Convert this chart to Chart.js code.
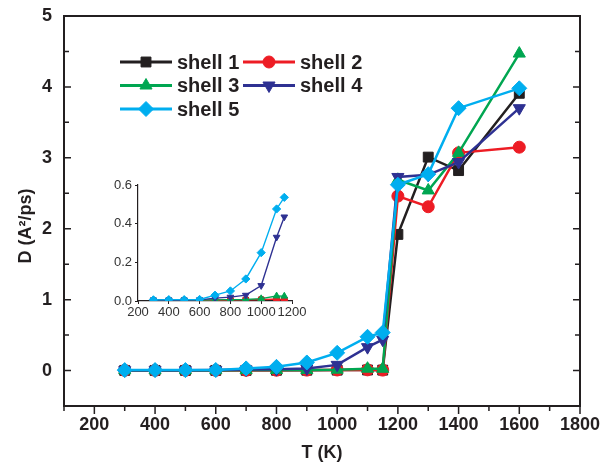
<!DOCTYPE html>
<html>
<head>
<meta charset="utf-8">
<script src="https://cdn.jsdelivr.net/npm/chart.js@4/dist/chart.umd.min.js"></script>
<style>
  body { margin: 0; background: #fff; }
  #wrap { position: relative; width: 605px; height: 466px; }
  #inset { position: absolute; left: 98px; top: 172px; }
</style>
</head>
<body>
<div id="wrap">
  <canvas id="main" width="605" height="466"></canvas>
  <canvas id="inset" width="210" height="150"></canvas>
</div>
<script>
// temperatures (K) and diffusion coefficients D (A^2/ps) per shell
const temps = [300, 400, 500, 600, 700, 800, 900, 1000, 1100, 1150, 1200, 1300, 1400, 1600];
const shell1 = [0.002, 0.002, 0.002, 0.002, 0.003, 0.004, 0.005, 0.006, 0.008, 0.006, 1.92, 3.01, 2.82, 3.91];
const shell2 = [0.003, 0.003, 0.003, 0.003, 0.004, 0.005, 0.006, 0.008, 0.010, 0.006, 2.46, 2.31, 3.07, 3.15];
const shell3 = [0.005, 0.005, 0.005, 0.005, 0.006, 0.007, 0.008, 0.012, 0.026, 0.025, 2.69, 2.54, 3.07, 4.47];
const shell4 = [0.005, 0.005, 0.005, 0.006, 0.015, 0.020, 0.030, 0.080, 0.330, 0.435, 2.73, 2.76, 2.94, 3.70];
const shell5 = [0.006, 0.007, 0.007, 0.008, 0.030, 0.052, 0.114, 0.250, 0.476, 0.536, 2.62, 2.77, 3.70, 3.98];

const seriesNames = ['shell 1', 'shell 2', 'shell 3', 'shell 4', 'shell 5'];
const xTicks = [200, 400, 600, 800, 1000, 1200, 1400, 1600, 1800];
const yTicks = [0, 1, 2, 3, 4, 5];
const insetXTicks = [200, 400, 600, 800, 1000, 1200];
const insetYTicks = [0, 0.2, 0.4, 0.6];
const insetCount = 10; // inset shows points up to 1150 K

const FONT = '"Liberation Sans", Arial, sans-serif';
const INK = '#231f20';
const styles = [
  { color: '#231f20', point: 'rect', rot: 0, r: 7 },
  { color: '#ed1c24', point: 'circle', rot: 0, r: 6 },
  { color: '#00a651', point: 'triangle', rot: 0, r: 7 },
  { color: '#2e3192', point: 'triangle', rot: 180, r: 7 },
  { color: '#00aeef', point: 'rectRot', rot: 0, r: 7.5 },
];
const allSeries = [shell1, shell2, shell3, shell4, shell5];

function makeSets(n, scale) {
  return allSeries.map((s, k) => ({
    label: seriesNames[k],
    data: temps.slice(0, n).map((t, i) => ({ x: t, y: s[i] })),
    borderColor: styles[k].color,
    backgroundColor: styles[k].color,
    pointBackgroundColor: styles[k].color,
    pointBorderColor: styles[k].color,
    pointStyle: styles[k].point,
    rotation: styles[k].rot,
    pointRadius: styles[k].r * scale,
    pointBorderWidth: 1,
    borderWidth: Math.max(1.3, 2.5 * scale),
    order: 5 - k,
  }));
}

// box frame + inward/outward tick marks like the original plot
const framePlugin = {
  id: 'frame',
  afterDraw(chart) {
    const { ctx, chartArea: a, scales } = chart;
    ctx.save();
    ctx.strokeStyle = INK;
    ctx.lineWidth = 2;
    ctx.strokeRect(a.left, a.top, a.right - a.left, a.bottom - a.top);
    ctx.lineWidth = 1.5;
    ctx.beginPath();
    for (let v = 0; v <= 5; v += 0.5) {
      const y = scales.y.getPixelForValue(v);
      const len = Number.isInteger(v) ? 7 : 5;
      ctx.moveTo(a.left, y); ctx.lineTo(a.left + len, y);
      ctx.moveTo(a.right, y); ctx.lineTo(a.right - len, y);
    }
    for (let v = 100; v <= 1800; v += 100) {
      const x = scales.x.getPixelForValue(v);
      const len = v % 200 === 0 ? 8 : 5;
      ctx.moveTo(x, a.bottom); ctx.lineTo(x, a.bottom + len);
    }
    ctx.stroke();
    ctx.restore();
  },
};

// two-column legend in the upper left of the plot
const legendPlugin = {
  id: 'shellLegend',
  afterDraw(chart) {
    const { ctx, chartArea: a } = chart;
    ctx.save();
    chart.data.datasets.forEach((ds, k) => {
      const st = styles[k];
      const x0 = a.left + 56 + (k % 2) * 123;
      const y = a.top + 46 + Math.floor(k / 2) * 23.5;
      ctx.strokeStyle = st.color;
      ctx.fillStyle = st.color;
      ctx.lineWidth = 3;
      ctx.beginPath();
      ctx.moveTo(x0, y); ctx.lineTo(x0 + 52, y);
      ctx.stroke();
      ctx.lineWidth = 1;
      Chart.helpers.drawPoint(ctx, { pointStyle: st.point, rotation: st.rot, radius: st.r, borderWidth: 1 }, x0 + 26, y);
      ctx.fillStyle = INK;
      ctx.font = 'bold 20px ' + FONT;
      ctx.textBaseline = 'middle';
      ctx.fillText(ds.label, x0 + 57, y + 1);
    });
    ctx.restore();
  },
};

// invisible tick marks give the label gap without inflating the layout overhang
const hiddenTicks = len => ({ display: true, drawOnChartArea: false, drawTicks: true, tickLength: len, color: 'rgba(0,0,0,0)' });

new Chart(document.getElementById('main'), {
  type: 'line',
  data: { datasets: makeSets(temps.length, 1) },
  options: {
    responsive: false,
    animation: false,
    layout: { padding: { top: 16, right: 25, left: 0, bottom: 0 } },
    plugins: { legend: { display: false }, tooltip: { enabled: false } },
    scales: {
      x: {
        type: 'linear', min: 100, max: 1800,
        afterBuildTicks: s => { s.ticks = xTicks.map(v => ({ value: v })); },
        afterFit: s => { s.height = 60; },
        grid: hiddenTicks(5),
        border: { display: false },
        ticks: { color: INK, font: { family: FONT, size: 18, weight: 'bold' }, padding: 3, maxRotation: 0, autoSkip: false, callback: v => String(v) },
        title: { display: true, text: 'T (K)', color: INK, font: { family: FONT, size: 18, weight: 'bold' }, padding: { top: 0, bottom: 2 } },
      },
      y: {
        type: 'linear', min: -0.5, max: 5,
        afterBuildTicks: s => { s.ticks = yTicks.map(v => ({ value: v })); },
        afterFit: s => { s.width = 64; },
        grid: hiddenTicks(7),
        border: { display: false },
        ticks: { color: INK, font: { family: FONT, size: 18, weight: 'bold' }, padding: 5, callback: v => String(v) },
        title: { display: true, text: 'D (A²/ps)      ', color: INK, font: { family: FONT, size: 18, weight: 'bold' }, padding: { top: 15, bottom: 0 } },
      },
    },
  },
  plugins: [framePlugin, legendPlugin],
});

new Chart(document.getElementById('inset'), {
  type: 'line',
  data: { datasets: makeSets(insetCount, 0.55) },
  options: {
    responsive: false,
    animation: false,
    layout: { padding: { top: 13, right: 16, left: 0, bottom: 0 } },
    plugins: { legend: { display: false }, tooltip: { enabled: false } },
    scales: {
      x: {
        type: 'linear', min: 200, max: 1200,
        afterBuildTicks: s => { s.ticks = insetXTicks.map(v => ({ value: v })); },
        afterFit: s => { s.height = 21; },
        grid: { drawOnChartArea: false, drawTicks: true, tickLength: 3, color: INK },
        border: { display: true, color: INK, width: 1.2 },
        ticks: { color: '#333', font: { family: FONT, size: 13 }, padding: 1, maxRotation: 0, autoSkip: false, callback: v => String(v) },
      },
      y: {
        type: 'linear', min: 0, max: 0.6,
        afterBuildTicks: s => { s.ticks = insetYTicks.map(v => ({ value: v })); },
        afterFit: s => { s.width = 40; },
        grid: { drawOnChartArea: false, drawTicks: true, tickLength: 3, color: INK },
        border: { display: true, color: INK, width: 1.2 },
        ticks: { color: '#333', font: { family: FONT, size: 13 }, padding: 3, callback: v => v.toFixed(1) },
      },
    },
  },
});
</script>
</body>
</html>
